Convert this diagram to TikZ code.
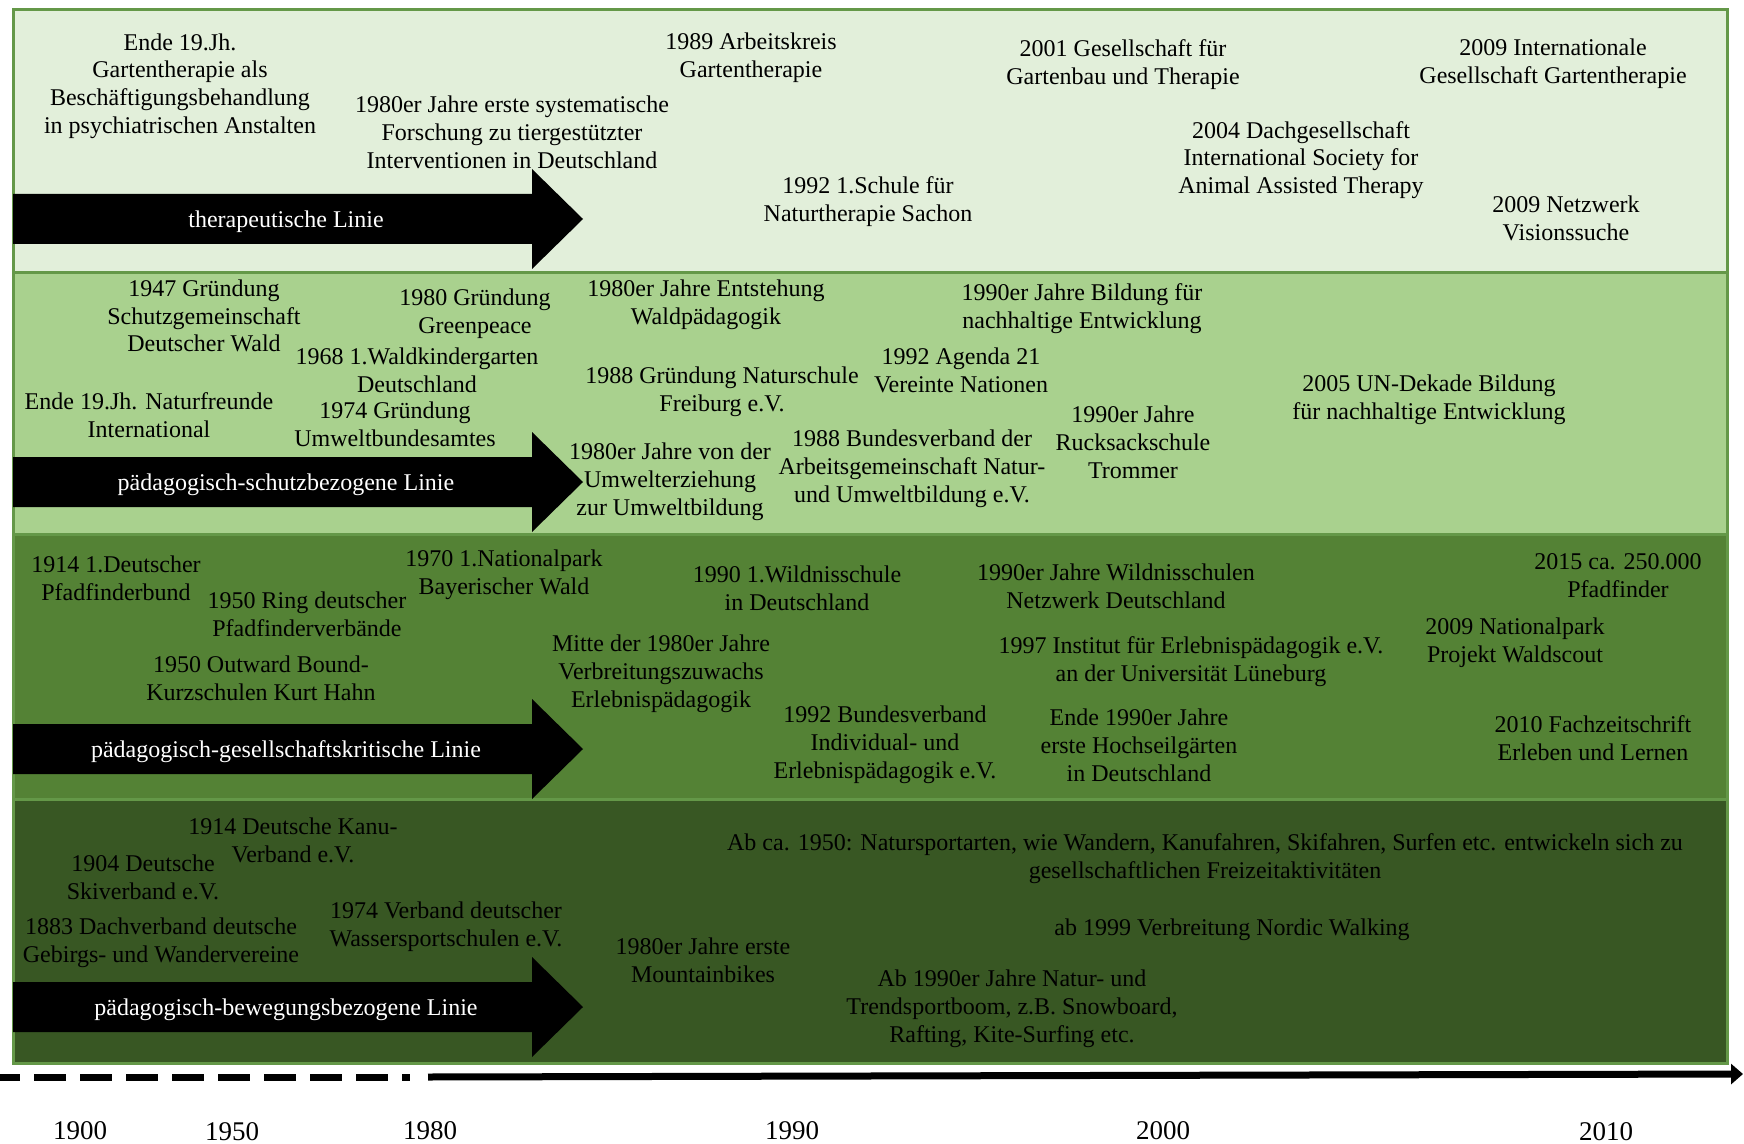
\documentclass[tikz,border=0pt]{standalone}
\usepackage{fontspec}
\setmainfont{Liberation Serif}
\usetikzlibrary{arrows.meta}

\definecolor{bandA}{HTML}{E2EFDA}
\definecolor{bandB}{HTML}{A9D18E}
\definecolor{bandC}{HTML}{548235}
\definecolor{bandD}{HTML}{385723}
\definecolor{bandline}{HTML}{649848}

\begin{document}
\begin{tikzpicture}[
  x=0.5pt, y=-0.5pt,
  ev/.style={align=center, inner sep=0pt, text=black, yshift=-1pt,
             font=\fontsize{12pt}{13.9pt}\selectfont},
  linelabel/.style={align=center, inner sep=0pt, text=white, yshift=-1.5pt,
             font=\fontsize{12pt}{13.9pt}\selectfont},
  yearlabel/.style={inner sep=0pt, font=\fontsize{13.5pt}{15pt}\selectfont},
  blockarrow/.style={fill=black, draw=none},
  bandedge/.style={draw=bandline, line width=1.5pt},
  axisline/.style={line width=3.5pt, black}
]
\useasboundingbox[fill=white] (0,0) rectangle (1744,1144);

% four horizontal bands, one per line of development
\fill[bandA] (13,10)  rectangle (1727,273);
\fill[bandB] (13,273) rectangle (1727,534);
\fill[bandC] (13,534) rectangle (1727,799);
\fill[bandD] (13,799) rectangle (1727,1063);
\draw[bandedge] (13,10) rectangle (1727,1063);
\draw[bandedge] (13,273) -- (1727,273);
\draw[bandedge] (13,534) -- (1727,534);
\draw[bandedge] (13,799) -- (1727,799);

% black block arrows carrying the line names
\foreach \yc in {219,482,749,1007} {
  \fill[blockarrow] (13,\yc-25) -- (532,\yc-25) -- (532,\yc-50) -- (583,\yc)
        -- (532,\yc+50) -- (532,\yc+25) -- (13,\yc+25) -- cycle;
}
\node[linelabel] (l1) at (286,219)  {therapeutische Linie};
\node[linelabel] (l2) at (286,482)  {pädagogisch-schutzbezogene Linie};
\node[linelabel] (l3) at (286,749)  {pädagogisch-gesellschaftskritische Linie};
\node[linelabel] (l4) at (286,1007) {pädagogisch-bewegungsbezogene Linie};

% therapeutic line
\node[ev] (a1) at (180,84)   {Ende 19.Jh.\\Gartentherapie als\\Beschäftigungsbehandlung\\in psychiatrischen Anstalten};
\node[ev] (a2) at (512,130)  {1980er Jahre erste systematische\\Forschung zu tiergestützter\\Interventionen in Deutschland};
\node[ev] (a3) at (751,56)   {1989 Arbeitskreis\\Gartentherapie};
\node[ev] (a4) at (868,200)  {1992 1.Schule für\\Naturtherapie Sachon};
\node[ev] (a5) at (1123,63)  {2001 Gesellschaft für\\Gartenbau und Therapie};
\node[ev] (a6) at (1301,158) {2004 Dachgesellschaft\\International Society for\\Animal Assisted Therapy};
\node[ev] (a7) at (1553,62)  {2009 Internationale\\Gesellschaft Gartentherapie};
\node[ev] (a8) at (1566,216) {2009 Netzwerk\\Visionssuche};

% protection-oriented line
\node[ev] (b1)  at (204,314)  {1947 Gründung\\Schutzgemeinschaft\\Deutscher Wald};
\node[ev] (b2)  at (475,312)  {1980 Gründung\\Greenpeace};
\node[ev] (b3)  at (417,368)  {1968 1.Waldkindergarten\\Deutschland};
\node[ev] (b4)  at (395,422)  {1974 Gründung\\Umweltbundesamtes};
\node[ev] (b5)  at (149,413)  {Ende 19.Jh. Naturfreunde\\International};
\node[ev] (b6)  at (706,303)  {1980er Jahre Entstehung\\Waldpädagogik};
\node[ev] (b7)  at (722,390)  {1988 Gründung Naturschule\\Freiburg e.V.};
\node[ev] (b8)  at (670,480)  {1980er Jahre von der\\Umwelterziehung\\zur Umweltbildung};
\node[ev] (b9)  at (1082,307) {1990er Jahre Bildung für\\nachhaltige Entwicklung};
\node[ev] (b10) at (961,368)  {1992 Agenda 21\\Vereinte Nationen};
\node[ev] (b11) at (912,467)  {1988 Bundesverband der\\Arbeitsgemeinschaft Natur-\\und Umweltbildung e.V.};
\node[ev] (b12) at (1133,440) {1990er Jahre\\Rucksackschule\\Trommer};
\node[ev] (b13) at (1429,398) {2005 UN-Dekade Bildung\\für nachhaltige Entwicklung};

% society-critical line
\node[ev] (c1)  at (116,576)  {1914 1.Deutscher\\Pfadfinderbund};
\node[ev] (c2)  at (307,612)  {1950 Ring deutscher\\Pfadfinderverbände};
\node[ev] (c3)  at (504,573)  {1970 1.Nationalpark\\Bayerischer Wald};
\node[ev] (c4)  at (261,676)  {1950 Outward Bound-\\Kurzschulen Kurt Hahn};
\node[ev] (c5)  at (661,672)  {Mitte der 1980er Jahre\\Verbreitungszuwachs\\Erlebnispädagogik};
\node[ev] (c6)  at (797,586)  {1990 1.Wildnisschule\\in Deutschland};
\node[ev] (c7)  at (885,743)  {1992 Bundesverband\\Individual- und\\Erlebnispädagogik e.V.};
\node[ev] (c8)  at (1116,584) {1990er Jahre Wildnisschulen\\Netzwerk Deutschland};
\node[ev] (c9)  at (1191,660) {1997 Institut für Erlebnispädagogik e.V.\\an der Universität Lüneburg};
\node[ev] (c10) at (1139,743) {Ende 1990er Jahre\\erste Hochseilgärten\\in Deutschland};
\node[ev] (c11) at (1618,574) {2015 ca. 250.000\\Pfadfinder};
\node[ev] (c12) at (1515,641) {2009 Nationalpark\\Projekt Waldscout};
\node[ev] (c13) at (1593,736) {2010 Fachzeitschrift\\Erleben und Lernen};

% movement-oriented line
\node[ev] (d1) at (293,838)  {1914 Deutsche Kanu-\\Verband e.V.};
\node[ev] (d2) at (143,875)  {1904 Deutsche\\Skiverband e.V.};
\node[ev] (d3) at (161,941)  {1883 Dachverband deutsche\\Gebirgs- und Wandervereine};
\node[ev] (d4) at (446,925)  {1974 Verband deutscher\\Wassersportschulen e.V.};
\node[ev] (d5) at (703,958)  {1980er Jahre erste\\Mountainbikes};
\node[ev] (d6) at (1205,857) {Ab ca. 1950: Natursportarten, wie Wandern, Kanufahren, Skifahren, Surfen etc. entwickeln sich zu\\gesellschaftlichen Freizeitaktivitäten};
\node[ev] (d7) at (1232,928) {ab 1999 Verbreitung Nordic Walking};
\node[ev] (d8) at (1012,1007) {Ab 1990er Jahre Natur- und\\Trendsportboom, z.B. Snowboard,\\Rafting, Kite-Surfing etc.};

% time axis: dashed before 1980, solid afterwards
\coordinate (ax0) at (0,1077);
\coordinate (ax1) at (410,1077);
\coordinate (ax2) at (428,1077);
\coordinate (ax3) at (1743,1074);
\draw[axisline, dash pattern=on 16pt off 7pt, dash phase=6pt] (ax0) -- (ax1);
\draw[axisline, -{Triangle[length=6pt,width=10pt]}] (ax2) -- (ax3);

\node[yearlabel] (y1900) at (80,1131)   {1900};
\node[yearlabel] (y1950) at (232,1132)  {1950};
\node[yearlabel] (y1980) at (430,1131)  {1980};
\node[yearlabel] (y1990) at (792,1131)  {1990};
\node[yearlabel] (y2000) at (1163,1131) {2000};
\node[yearlabel] (y2010) at (1606,1132) {2010};
\end{tikzpicture}
\end{document}
